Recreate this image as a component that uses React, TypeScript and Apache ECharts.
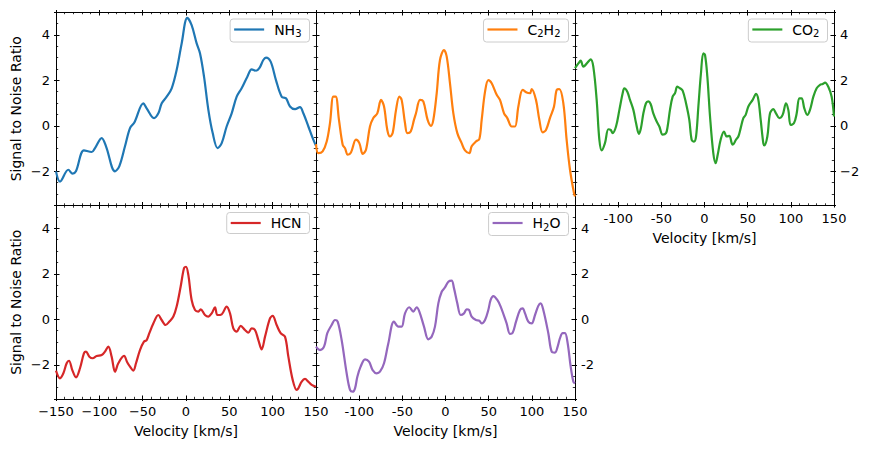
import React, { useEffect, useRef } from "react";
import * as echarts from "echarts";

// Velocity [km/s], signal-to-noise pairs
const NH3 = [
  [-150, -2.0], [-145.4, -2.45], [-135.8, -1.93], [-130.8, -2.1], [-127, -2.0], [-117.7, -1.08],
  [-108.8, -1.15], [-105, -0.98], [-97.3, -0.54], [-92.3, -0.9], [-81.9, -2.0], [-77, -1.78],
  [-70.4, -0.9], [-64.6, -0.1], [-59.6, 0.15], [-49.2, 0.99], [-45.4, 0.77], [-36.9, 0.34],
  [-31.9, 0.55], [-28, 0.99], [-22.3, 1.28], [-16.5, 1.65], [-10.8, 2.45], [-5, 3.62],
  [1.5, 4.74], [6.5, 4.42], [12.3, 3.62], [16.2, 3.18], [20.8, 2.16], [25.8, 0.7],
  [30.8, -0.32], [36.5, -0.98], [41.2, -0.76], [46.9, -0.03], [52.7, 0.55], [58.5, 1.28],
  [64.2, 1.65], [70.8, 2.16], [75.8, 2.48], [80.8, 2.42], [84.6, 2.53], [89.2, 2.89],
  [92.3, 3.0], [97.7, 2.82], [103.8, 2.01], [110.4, 1.28], [115.4, 1.21], [120, 0.85],
  [125.8, 0.73], [131.5, 0.82], [135.4, 0.55], [141.2, -0.03], [146.9, -0.61], [150, -0.88],
];

const C2H2 = [
  [-150, -0.8], [-147.3, -1.2], [-142.3, -1.12], [-137.6, -0.69], [-133.8, 0.12], [-129.9, 1.28],
  [-127.2, 1.28], [-123.4, 0.26], [-119.1, -0.83], [-116.4, -0.98], [-113.3, -1.27], [-109.5, -1.17],
  [-103.7, -0.61], [-99.8, -0.76], [-95.9, -1.23], [-92.1, -1.05], [-87.5, -0.03], [-83.6, 0.34],
  [-79, 0.55], [-74.7, 1.14], [-71.2, 0.85], [-67.4, -0.18], [-64.3, -0.47], [-61.2, -0.32],
  [-57.3, 0.7], [-53.5, 1.28], [-50.8, 1.14], [-46.9, 0.12], [-44.2, -0.32], [-40.3, -0.25],
  [-36.5, 0.26], [-34.2, 0.55], [-29.5, 1.14], [-25.7, 1.07], [-20.7, 0.26], [-16.8, 0.0],
  [-14.1, 0.26], [-10.2, 1.43], [-6.4, 2.89], [-1.7, 3.33], [1.4, 3.04], [5.2, 1.87],
  [9.1, 0.55], [13.7, -0.32], [18.7, -0.76], [22.6, -1.08], [27.6, -1.2], [30.3, -0.9],
  [35.3, -0.69], [39.2, -0.58], [41.9, 0.26], [45.8, 1.5], [49.6, 2.01], [53.5, 1.87],
  [59.3, 1.36], [63.1, 1.14], [67.8, 0.55], [71.6, 0.34], [76.6, -0.03], [80.5, -0.03],
  [84.4, 0.85], [89.4, 1.58], [94, 1.46], [97.9, 1.43], [99.8, 1.61], [104.8, 1.14],
  [108.7, 0.26], [112.5, -0.29], [116.4, -0.18], [121, 0.34], [125.7, 0.85], [128.8, 1.58],
  [131.9, 1.61], [136.5, 0.99], [140.3, -0.61], [144.2, -1.93], [148.8, -2.95], [150, -3.1],
];

const CO2 = [
  [-150, 2.53], [-146.1, 2.74], [-143.4, 2.86], [-140.3, 2.6], [-134.6, 2.82], [-131.9, 2.92],
  [-128.8, 2.6], [-124.9, 1.14], [-121.8, -0.61], [-119.1, -1.08], [-115.3, -0.76], [-111.4, -0.15],
  [-108.7, -0.18], [-106.4, -0.32], [-102.5, -0.03], [-98.6, 0.7], [-94.8, 1.43], [-92.9, 1.65],
  [-89.4, 1.5], [-86.3, 1.14], [-82.4, 0.7], [-79.3, 0.12], [-75.9, -0.36], [-73.6, -0.1],
  [-70.8, 0.55], [-67.8, 0.99], [-65.1, 1.07], [-62.4, 0.96], [-59.3, 0.55], [-55.4, 0.19],
  [-52.3, -0.03], [-48.5, -0.39], [-44.6, -0.32], [-42.7, -0.03], [-40, 0.7], [-36.9, 1.28],
  [-34.2, 1.43], [-31.5, 1.72], [-28.4, 1.65], [-25.3, 1.55], [-21.4, 0.99], [-17.6, 0.26],
  [-14.9, -0.61], [-12.2, -0.69], [-9.8, -0.47], [-7.1, 0.85], [-4.1, 2.31], [-1.4, 3.18],
  [0.6, 3.11], [3.3, 2.16], [6.4, 0.41], [10.2, -1.2], [12.9, -1.64], [15.3, -1.27],
  [18.7, -0.61], [22.6, -0.25], [25.7, -0.47], [28.8, -0.44], [31.5, -0.76], [32.6, -0.83],
  [36.5, -0.61], [39.2, -0.47], [41.9, -0.1], [45, 0.34], [47.7, 0.48], [50.8, 0.85],
  [55.8, 1.14], [59.7, 1.4], [62.4, 1.14], [65.1, 0.26], [68.1, -0.76], [69.3, -0.86],
  [72.8, -0.47], [75.9, 0.55], [79.7, 0.73], [82.8, 0.55], [86.7, 0.34], [90.5, 0.48],
  [94.4, 0.99], [97.1, 0.7], [99.8, 0.04], [103.7, 0.12], [106.8, 0.55], [109.8, 1.21],
  [112.5, 1.21], [115.6, 0.77], [119.1, 0.48], [122.2, 0.7], [126.1, 1.28], [129.9, 1.65],
  [133.8, 1.8], [136.9, 1.84], [139.6, 1.9], [143.4, 1.72], [147.3, 1.28], [150, 0.41],
];

const HCN = [
  [-150, -2.25], [-145.4, -2.59], [-141.5, -2.37], [-137.7, -1.93], [-135, -1.82], [-131.2, -2.23],
  [-126.9, -2.55], [-122.3, -2.15], [-117.7, -1.49], [-115.4, -1.42], [-111.5, -1.64], [-107.7, -1.71],
  [-103.1, -1.61], [-97.3, -1.57], [-93.5, -1.42], [-89.6, -1.2], [-85.8, -1.64], [-81.9, -2.3],
  [-78.1, -1.93], [-71.5, -1.61], [-67.7, -1.9], [-64.6, -2.08], [-60.8, -2.25], [-57.7, -1.93],
  [-53.1, -1.35], [-48.5, -0.98], [-45.4, -0.91], [-42.3, -0.61], [-37.7, -0.18], [-31.9, 0.19],
  [-28.1, -0.03], [-23.5, -0.25], [-19.2, -0.1], [-14.6, 0.12], [-10.8, 0.56], [-6.2, 1.43],
  [-2.3, 2.24], [0, 2.31], [2.7, 1.95], [6.5, 0.85], [10.4, 0.41], [14.2, 0.34],
  [16.9, 0.44], [21.9, 0.19], [25.8, 0.12], [29.6, 0.26], [33.5, 0.53], [36.2, 0.19],
  [41.2, 0.22], [46.9, 0.56], [50.8, 0.26], [54.6, -0.4], [58.5, -0.54], [63.1, -0.29],
  [68.1, -0.47], [71.9, -0.59], [75.8, -0.4], [79.6, -0.47], [83.5, -0.91], [87.3, -1.32],
  [91.2, -0.76], [96.9, 0.04], [100, 0.15], [104.6, -0.25], [109.2, -0.61], [114.2, -0.76],
  [118.1, -1.64], [123.1, -2.66], [127.7, -3.1], [129.6, -3.03], [133.5, -2.74], [137.3, -2.62],
  [141.2, -2.74], [145, -2.88], [150, -2.96],
];

const H2O = [
  [-150, -1.2], [-145.4, -1.35], [-140.7, -1.2], [-136.9, -0.61], [-131.9, -0.25], [-128, -0.03],
  [-124.9, -0.1], [-120.3, -0.91], [-114.5, -2.37], [-110.6, -3.1], [-107.5, -3.18], [-104.8, -3.03],
  [-102.1, -2.52], [-98.3, -2.08], [-93.2, -1.76], [-88.6, -1.86], [-84.4, -2.23], [-79.7, -2.37],
  [-75.9, -2.3], [-71.2, -1.93], [-66.2, -1.05], [-59.7, -0.1], [-54.6, -0.32], [-50.8, -0.32],
  [-46.9, 0.26], [-41.9, 0.53], [-37.3, 0.34], [-33.4, 0.53], [-30.3, 0.34], [-24.9, -0.32],
  [-19.9, -0.88], [-16, -0.76], [-12.2, -0.32], [-8.3, 0.7], [-4.4, 1.21], [-0.6, 1.4],
  [3.3, 1.65], [7.1, 1.7], [9.8, 1.37], [13.7, 0.7], [17.6, 0.19], [21.4, 0.26],
  [24.5, 0.44], [27.2, 0.41], [30.3, 0.12], [35.3, -0.03], [39.2, -0.06], [41.9, -0.18],
  [45.8, -0.03], [49.6, 0.41], [52.3, 0.85], [55.4, 1.02], [60, 0.85], [63.9, 0.56],
  [70.8, -0.18], [74.7, -0.64], [77.8, -0.59], [81.7, -0.1], [86.3, 0.41], [89.4, 0.48],
  [92.1, 0.26], [95.9, -0.1], [99.8, -0.18], [103.7, 0.19], [107.5, 0.59], [110.2, 0.7],
  [113.3, 0.41], [119.1, -0.61], [123, -1.42], [126.8, -1.46], [129.9, -1.2], [132.6, -0.83],
  [135.7, -0.61], [138.4, -0.61], [141.5, -1.05], [145, -2.08], [148.1, -2.74], [150, -2.81],
];

const X_MIN = -150;
const X_MAX = 150;
const X_STEP = 50;
const Y_MIN = -3.5;
const Y_MAX = 5;
const Y_STEP = 2;

const FONT = "DejaVu Sans";
const MINUS = "\u2212";

type Lbl = "minus" | "hyphen" | null;

const PANELS = [
  { name: "NH3", rich: "{a0|NH}{s|3}", data: NH3, color: "#1f77b4", col: 0, row: 0, left: "minus" as Lbl, right: null as Lbl, x: null as Lbl, xHideMin: false },
  { name: "C2H2", rich: "{a0|C}{s|2}{a|H}{s|2}", data: C2H2, color: "#ff7f0e", col: 1, row: 0, left: null as Lbl, right: null as Lbl, x: null as Lbl, xHideMin: false },
  { name: "CO2", rich: "{a0|CO}{s|2}", data: CO2, color: "#2ca02c", col: 2, row: 0, left: null as Lbl, right: "minus" as Lbl, x: "hyphen" as Lbl, xHideMin: true },
  { name: "HCN", rich: "{a0|HCN}", data: HCN, color: "#d62728", col: 0, row: 1, left: "minus" as Lbl, right: null as Lbl, x: "minus" as Lbl, xHideMin: false },
  { name: "H2O", rich: "{a0|H}{s|2}{a|O}", data: H2O, color: "#9467bd", col: 1, row: 1, left: null as Lbl, right: "hyphen" as Lbl, x: "hyphen" as Lbl, xHideMin: true },
];

const COL_LEFT = [56, 316, 575];
const COL_W = [260, 259, 259];
const ROW_TOP = [12, 205.5];
const ROW_H = 193.5;
const W = 872;

function fmt(v: number, style: Lbl) {
  const s = String(Math.abs(v));
  if (v < 0) return (style === "minus" ? MINUS : "-") + s;
  return s;
}

function buildOption() {
  const grid: any[] = [];
  const xAxis: any[] = [];
  const yAxis: any[] = [];
  const series: any[] = [];
  const legend: any[] = [];
  const line = { show: true, onZero: false, lineStyle: { color: "#000", width: 1 } };
  const tick = { show: true, inside: true, length: 3.5, lineStyle: { color: "#000", width: 1 } };
  const outTick = { show: true, inside: false, length: 2, lineStyle: { color: "#000", width: 1 } };
  const labelBase = { fontFamily: FONT, fontSize: 13, color: "#000" };
  const nameStyle = { fontFamily: FONT, fontSize: 14, color: "#000" };

  PANELS.forEach((p, i) => {
    const left = COL_LEFT[p.col];
    const width = COL_W[p.col];
    const top = ROW_TOP[p.row];
    grid.push({ left, top, width, height: ROW_H, containLabel: false });

    const xBase = {
      gridIndex: i, type: "value", min: X_MIN, max: X_MAX, interval: X_STEP,
      axisLine: line, axisTick: tick,
      minorTick: { show: true, splitNumber: 5, length: 2.2, lineStyle: { color: "#000", width: 0.8 } },
      splitLine: { show: false }, minorSplitLine: { show: false },
    };
    const xOuter = {
      gridIndex: i, type: "value", min: X_MIN, max: X_MAX, interval: X_STEP,
      axisLine: { show: false, onZero: false }, axisTick: outTick, minorTick: { show: false },
      axisLabel: { show: false }, splitLine: { show: false },
    };
    const xi = xAxis.length;
    xAxis.push({
      ...xBase, position: "bottom",
      axisLabel: p.x
        ? {
            ...labelBase, show: true, margin: 6, showMinLabel: true, showMaxLabel: true,
            formatter: (v: number) => (p.xHideMin && v === X_MIN ? "" : fmt(v, p.x)),
          }
        : { show: false },
      name: p.x ? "Velocity [km/s]" : "", nameLocation: "middle", nameGap: 25, nameTextStyle: nameStyle,
    });
    xAxis.push({ ...xBase, position: "top", axisLabel: { show: false } });
    xAxis.push({ ...xOuter, position: "bottom" });
    xAxis.push({ ...xOuter, position: "top" });

    const yBase = {
      gridIndex: i, type: "value", min: Y_MIN, max: Y_MAX, splitNumber: 5,
      axisLine: line, axisTick: tick,
      minorTick: { show: true, splitNumber: 4, length: 2.2, lineStyle: { color: "#000", width: 0.8 } },
      splitLine: { show: false }, minorSplitLine: { show: false },
    };
    const yOuter = {
      gridIndex: i, type: "value", min: Y_MIN, max: Y_MAX, splitNumber: 5,
      axisLine: { show: false, onZero: false }, axisTick: outTick, minorTick: { show: false },
      axisLabel: { show: false }, splitLine: { show: false },
    };
    const yLbl = (style: Lbl) =>
      style
        ? {
            ...labelBase, show: true, margin: 6,
            formatter: (v: number) => (Math.abs(v / Y_STEP - Math.round(v / Y_STEP)) < 1e-6 ? fmt(v, style) : ""),
          }
        : { show: false };
    const yi = yAxis.length;
    yAxis.push({
      ...yBase, position: "left", axisLabel: yLbl(p.left),
      name: p.left ? "Signal to Noise Ratio" : "", nameLocation: "middle", nameGap: 33, nameTextStyle: nameStyle,
    });
    yAxis.push({ ...yBase, position: "right", axisLabel: yLbl(p.right) });
    yAxis.push({ ...yOuter, position: "left" });
    yAxis.push({ ...yOuter, position: "right" });

    series.push({
      type: "line", name: p.name, xAxisIndex: xi, yAxisIndex: yi,
      data: p.data, symbol: "none", showSymbol: false, smooth: 0.35, clip: true,
      lineStyle: { color: p.color, width: 2.2 }, itemStyle: { color: p.color }, z: 3,
    });

    legend.push({
      show: true, data: [p.name], selectedMode: false,
      right: W - (left + width) + 6.5, top: top + 7,
      icon: "rect", itemWidth: 30, itemHeight: 2.2,
      padding: [3.5, 8, 3.5, 4],
      backgroundColor: "rgba(255,255,255,0.85)", borderColor: "#cccccc", borderWidth: 1, borderRadius: 3,
      formatter: () => p.rich,
      textStyle: {
        fontFamily: FONT, fontSize: 14, color: "#000",
        rich: {
          a0: { fontFamily: FONT, fontSize: 14, color: "#000", lineHeight: 18, padding: [0, 0, 0, 5] },
          a: { fontFamily: FONT, fontSize: 14, color: "#000", lineHeight: 18 },
          s: { fontFamily: FONT, fontSize: 10, color: "#000", lineHeight: 11, verticalAlign: "bottom" },
        },
      },
    });
  });

  return { animation: false, backgroundColor: "#fff", grid, xAxis, yAxis, series, legend };
}

export default function App() {
  const ref = useRef<HTMLDivElement>(null);
  useEffect(() => {
    if (!ref.current) return;
    const chart = echarts.init(ref.current, null, { renderer: "svg" });
    chart.setOption(buildOption() as any);
    return () => chart.dispose();
  }, []);
  return (
    <div
      ref={ref}
      style={{ position: "fixed", left: 0, top: 0, width: 872, height: 449, background: "#fff" }}
    />
  );
}
